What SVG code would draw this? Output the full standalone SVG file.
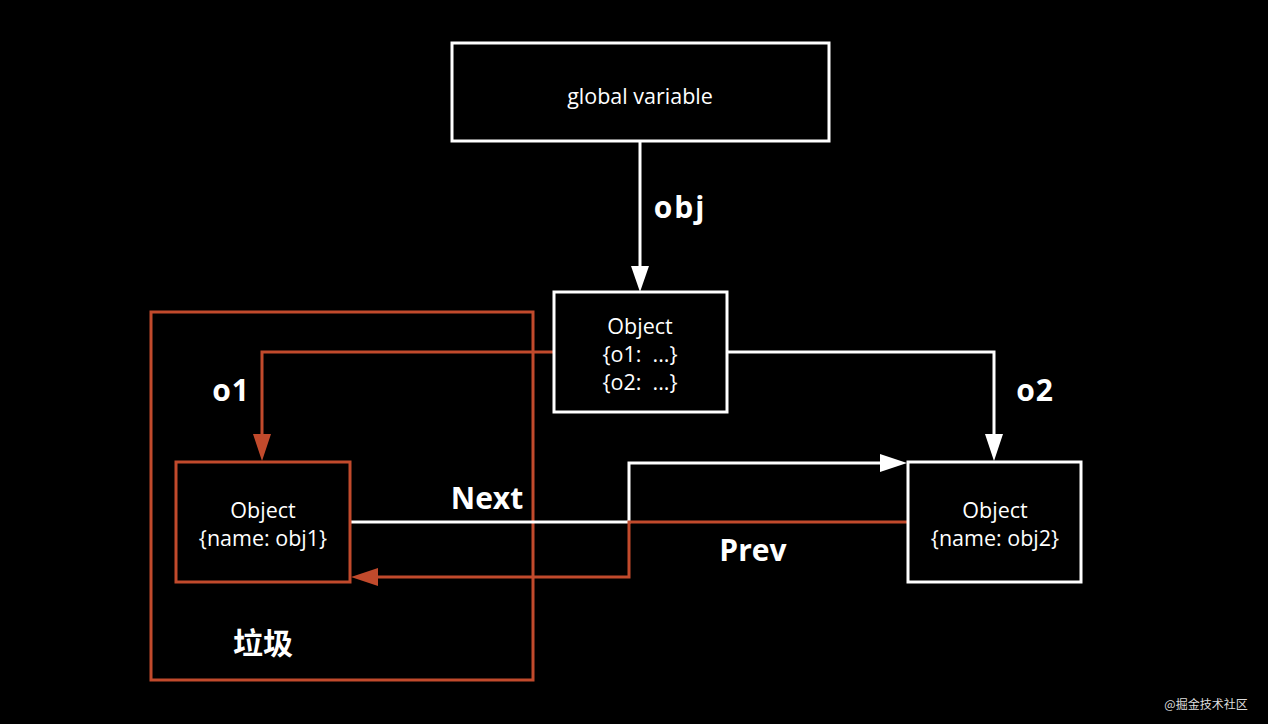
<svg xmlns="http://www.w3.org/2000/svg" width="1268" height="724" viewBox="0 0 1268 724">
<style>
.box{fill:none;stroke:#fff;stroke-width:3}
.obox{fill:none;stroke:#c14a2c;stroke-width:3}
.w{fill:none;stroke:#fff;stroke-width:3}
.o{fill:none;stroke:#c14a2c;stroke-width:3}
.t{font-family:"Open Sans","Noto Sans",sans-serif;font-size:21.5px;fill:#fff;text-anchor:middle;white-space:pre}
.b{font-family:"Open Sans","Noto Sans","Noto Sans CJK SC",sans-serif;font-size:30px;font-weight:bold;fill:#fff;text-anchor:middle}
</style>
<rect width="1268" height="724" fill="#000"/>
<g id="trash">
<rect class="obox" x="151" y="312" width="382" height="368"/>
<text class="b" x="263" y="654" font-family="Noto Sans CJK SC">垃圾</text>
</g>
<g id="connectors">
<path class="w" d="M640 141 V268"/>
<polygon points="631,266 649,266 640,292" fill="#fff"/>
<path class="o" d="M554 352 H262 V436"/>
<polygon points="253,434 271,434 262,461" fill="#c14a2c"/>
<path class="w" d="M727 352 H994 V436"/>
<polygon points="985,434 1003,434 994,461" fill="#fff"/>
<path class="w" d="M350 522 H629 V463 H882"/>
<polygon points="880,454 880,472 907,463" fill="#fff"/>
<path class="o" d="M908 522 H629 V577 H376"/>
<polygon points="378,568 378,586 351,577" fill="#c14a2c"/>
<text class="b" x="680" y="218" letter-spacing="2">obj</text>
<text class="b" x="231" y="401" letter-spacing="1">o1</text>
<text class="b" x="1035" y="401" letter-spacing="1">o2</text>
<text class="b" x="487" y="509">Next</text>
<text class="b" x="753" y="561">Prev</text>
</g>
<g id="global">
<rect class="box" x="452" y="43" width="377" height="98"/>
<text class="t" x="640" y="104" font-size="23">global variable</text>
</g>
<g id="obj">
<rect class="box" x="554" y="292" width="173" height="120"/>
<text class="t" x="640" y="334">Object</text>
<text class="t" x="640" y="362">{o1:  ...}</text>
<text class="t" x="640" y="390">{o2:  ...}</text>
</g>
<g id="obj1">
<rect class="obox" x="176" y="462" width="174" height="120"/>
<text class="t" x="263" y="518">Object</text>
<text class="t" x="263" y="546">{name: obj1}</text>
</g>
<g id="obj2">
<rect class="box" x="908" y="462" width="173" height="120"/>
<text class="t" x="995" y="518">Object</text>
<text class="t" x="995" y="546">{name: obj2}</text>
</g>
<text x="1206" y="709" font-family="Noto Sans CJK SC,sans-serif" font-size="12" fill="#ddd" text-anchor="middle">@掘金技术社区</text>
</svg>
